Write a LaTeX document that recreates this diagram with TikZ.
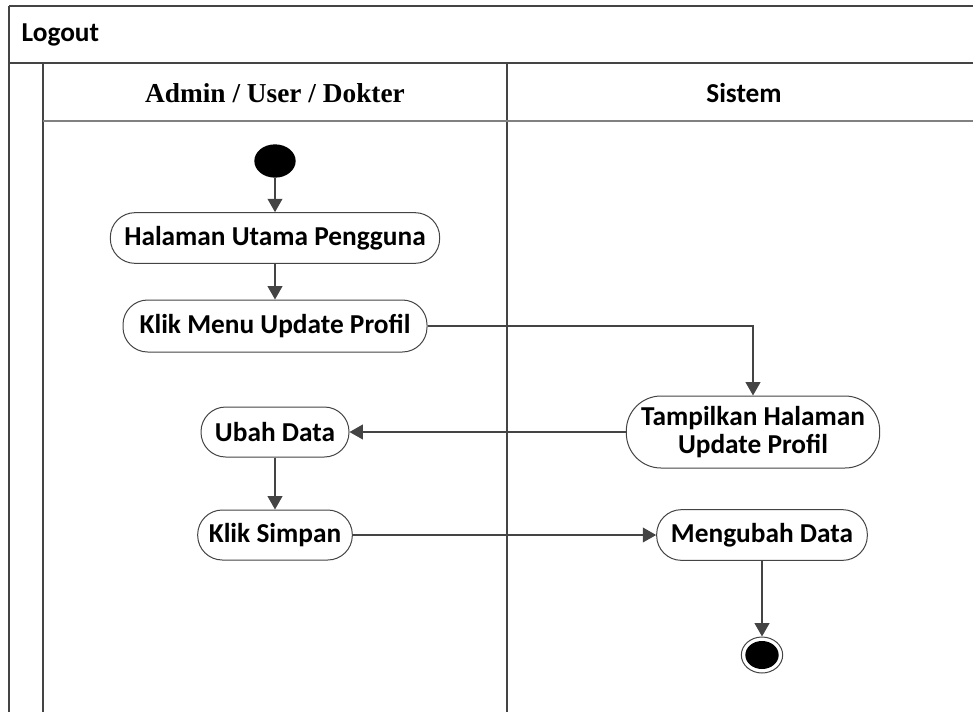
\documentclass[tikz,border=0pt]{standalone}
\usepackage{fontspec}
\setmainfont{Carlito}
\newfontfamily\lanefont{Liberation Serif}
\usetikzlibrary{arrows.meta}
\usetikzlibrary{shapes.geometric}
\definecolor{linegray}{HTML}{444444}

\begin{document}
\begin{tikzpicture}[x=0.75pt,y=-0.75pt]
	\clip (0,0) rectangle (973,711);

	% frame of the swimlanes
	\begin{scope}[draw=linegray, line width=1.5pt]
		\draw (9,6) -- (980,6);
		\draw (9,6) -- (9,720);
		\draw (9,63) -- (980,63);
		\draw (43,63) -- (43,720);
		\draw (507,63) -- (507,720);
		\draw[gray] (43,121) -- (980,121);
	\end{scope}

	\begin{scope}[every node/.style={font=\fontsize{20.5}{23}\selectfont\bfseries}]
		\node[anchor=west] (title) at (17,35) {Logout};
		\node (lane1) at (275,93) {\lanefont\fontsize{20.5}{23}\selectfont Admin / User / Dokter};
		\node (lane2) at (744,93) {Sistem};
	\end{scope}

	\begin{scope}[every node/.style={draw=linegray, line width=0.75pt, fill=white,
	              rounded corners=18.5pt, inner sep=0pt, align=center,
	              font=\fontsize{20.5}{21}\selectfont\bfseries}]
		\node[minimum width=247pt, minimum height=38pt] (utama) at (275,238) {Halaman Utama Pengguna};
		\node[minimum width=228pt, minimum height=39pt] (menu) at (275,326) {Klik Menu Update Profil};
		\node[minimum width=190pt, minimum height=54pt, rounded corners=26pt] (tampil) at (753,432) {Tampilkan Halaman\\Update Profil};
		\node[minimum width=111pt, minimum height=37.5pt] (ubah) at (275,432) {Ubah Data};
		\node[minimum width=116pt, minimum height=37.5pt] (simpan) at (275,535) {Klik Simpan};
		\node[minimum width=158pt, minimum height=38pt] (mengubah) at (762,535) {Mengubah Data};
	\end{scope}

	\node[ellipse, fill=black, inner sep=0pt, minimum width=31pt, minimum height=25pt] (start) at (275,161) {};
	\node[ellipse, draw=linegray, line width=0.75pt, fill=white, inner sep=0pt,
	      minimum width=31pt, minimum height=27pt] (end) at (762,655) {};
	\node[ellipse, fill=black, inner sep=0pt, minimum width=25pt, minimum height=21pt] (endin) at (end) {};

	\begin{scope}[>={Triangle[length=10pt, width=11pt]},
	              every edge/.style={draw=linegray, line width=1.3pt, ->}]
		\path (start) edge (utama);
		\path (utama) edge (menu);
		\path (tampil) edge (ubah);
		\path (ubah) edge (simpan);
		\path (simpan) edge (mengubah);
		\path (mengubah) edge (end);
		\draw[linegray, line width=1.3pt, ->] (menu) -| (tampil);
	\end{scope}
\end{tikzpicture}
\end{document}
